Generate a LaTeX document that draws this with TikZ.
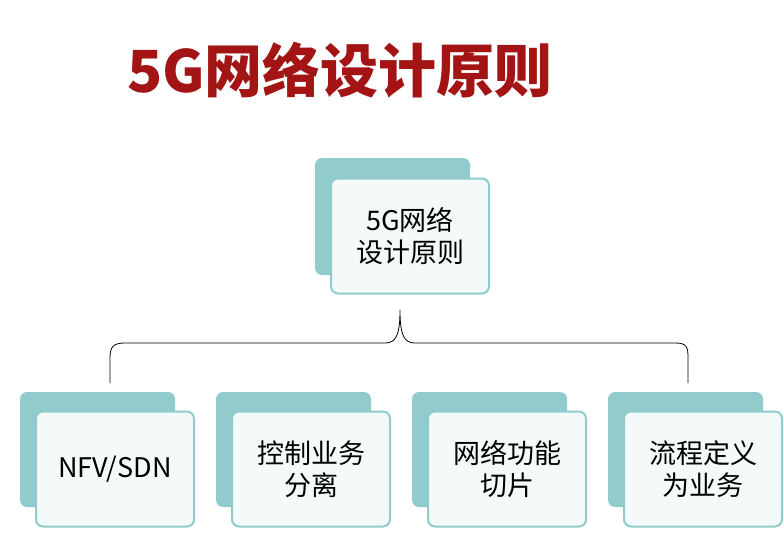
\documentclass[tikz,border=0pt]{standalone}
\usepackage{fontspec}
\setmainfont{Noto Sans CJK SC}
\definecolor{teal1}{HTML}{92CBCB}
\definecolor{paper}{HTML}{F4F9F9}
\definecolor{titlered}{HTML}{A31515}
\tikzset{
  backbox/.style={fill=teal1,rounded corners=7pt},
  frontbox/.style={draw=teal1,line width=2pt,fill=paper,rounded corners=7pt,
    minimum width=158pt,minimum height=115pt,font=\fontsize{27}{32}\selectfont,align=center},
}
\begin{document}
\begin{tikzpicture}[x=1pt,y=-1pt]
        \useasboundingbox (0,0) rectangle (784,535);
        \node[text=titlered,font=\bfseries\fontsize{58}{64}\selectfont] (title) at (340,70) {5G网络设计原则};
        % top box
        \fill[backbox] (315,158) rectangle (470,275);
        \node[frontbox] (top) at (410,236) {5G网络\\设计原则};
        % brace
        \draw[black,thick] (110,383) -- (110,358) .. controls (110,347) and (113,343) .. (125,343)
            -- (385,343) .. controls (396,343) and (400,335) .. (400,310)
            .. controls (400,335) and (404,343) .. (415,343)
            -- (675,343) .. controls (687,343) and (688,347) .. (688,358) -- (688,383);
        % bottom boxes
        \foreach \i/\txt/\nm in {0/{NFV/SDN}/nfv,1/{控制业务\\分离}/sep,2/{网络功能\\切片}/slice,3/{流程定义\\为业务}/flow}{
          \fill[backbox] (20+196*\i,392) rectangle (175+196*\i,507);
          \node[frontbox] (\nm) at (115+196*\i,469) {\txt};
        }
\end{tikzpicture}
\end{document}
